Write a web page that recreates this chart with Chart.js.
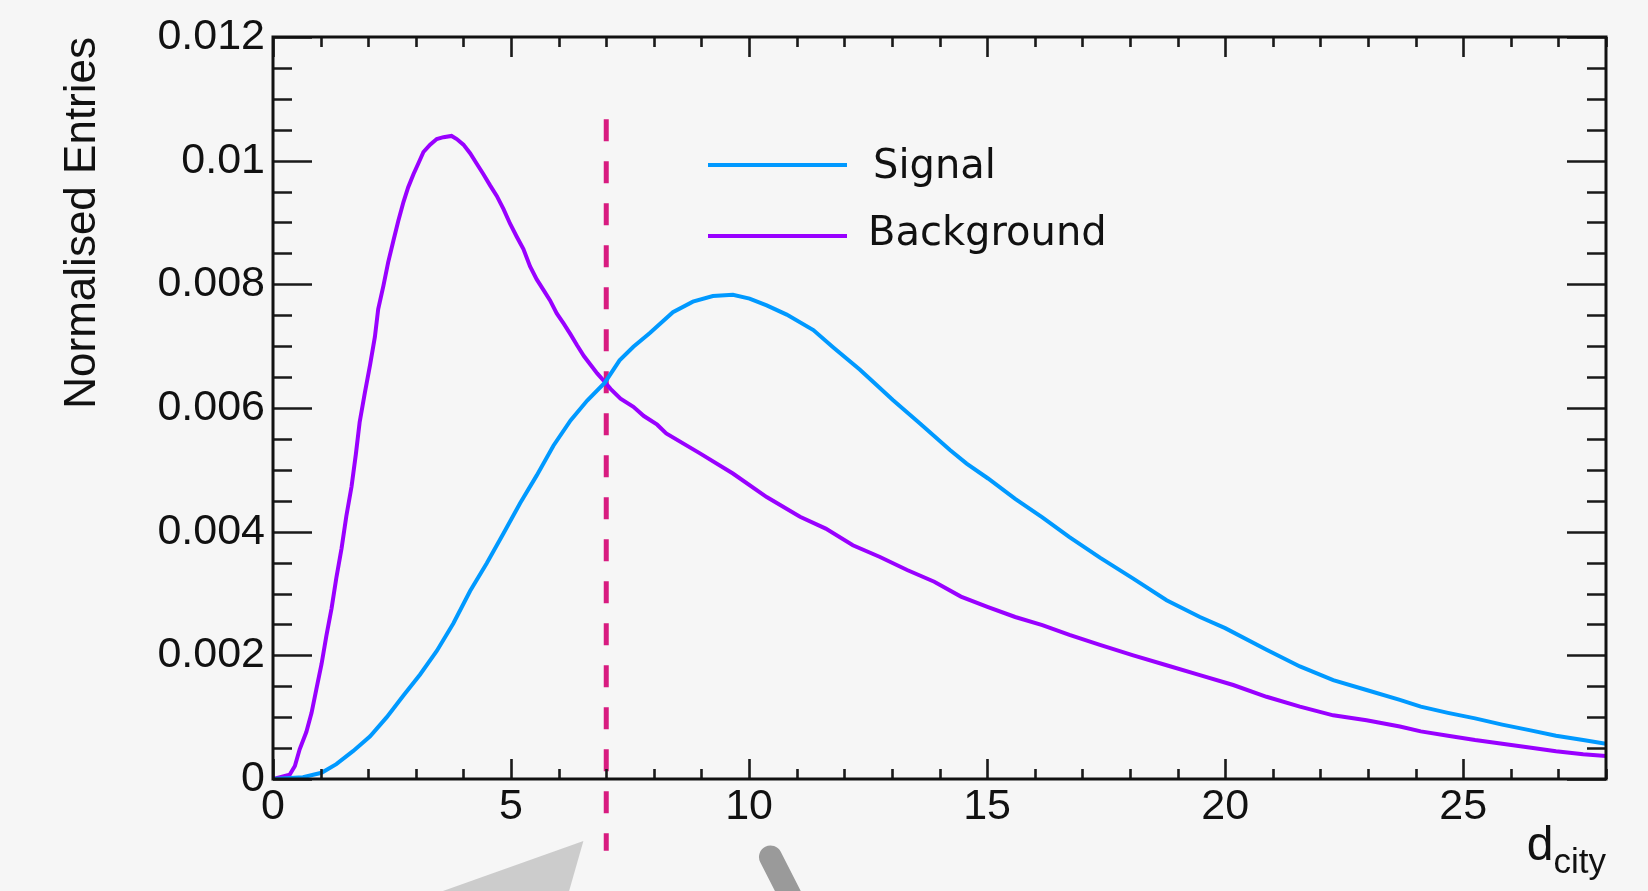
<!DOCTYPE html>
<html>
<head>
<meta charset="utf-8">
<script src="https://cdn.jsdelivr.net/npm/chart.js@4.4.1/dist/chart.umd.min.js"></script>
<style>
html,body{margin:0;padding:0;background:#f6f6f6;}
canvas{display:block;}
</style>
</head>
<body>
<canvas id="c" width="1648" height="891"></canvas>
<script>
// ---- data ----
const seriesNames = ['Signal', 'Background'];

const signalX = [0, 0.63, 1.02, 1.33, 1.68, 2.04, 2.39, 2.74, 3.09, 3.44, 3.79, 4.14, 4.49, 4.84, 5.19, 5.54, 5.89, 6.25, 6.60, 6.97, 7.28, 7.57, 7.91, 8.40, 8.82, 9.24, 9.66, 10.01, 10.37, 10.79, 11.35, 11.77, 12.33, 12.61, 13.02, 13.59, 14.22, 14.57, 15.02, 15.59, 16.16, 16.73, 17.37, 18.07, 18.77, 19.47, 20.00, 20.87, 21.57, 22.27, 22.97, 23.67, 24.11, 24.68, 25.25, 25.82, 26.39, 26.95, 27.52, 28.00];
const signalY = [0, 0.00003, 0.00010, 0.00024, 0.00045, 0.00069, 0.00100, 0.00135, 0.00169, 0.00207, 0.00252, 0.00304, 0.00349, 0.00397, 0.00446, 0.00491, 0.00539, 0.00580, 0.00612, 0.00641, 0.00677, 0.00699, 0.00721, 0.00755, 0.00772, 0.00781, 0.00783, 0.00777, 0.00766, 0.00751, 0.00726, 0.00698, 0.00662, 0.00642, 0.00613, 0.00575, 0.00532, 0.00510, 0.00486, 0.00453, 0.00423, 0.00391, 0.00358, 0.00324, 0.00289, 0.00262, 0.00244, 0.00209, 0.00182, 0.00160, 0.00144, 0.00128, 0.00117, 0.00107, 0.00098, 0.00088, 0.00079, 0.00070, 0.00063, 0.00057];

const backgroundX = [0, 0.35, 0.46, 0.56, 0.70, 0.81, 0.91, 1.02, 1.12, 1.23, 1.33, 1.44, 1.54, 1.65, 1.74, 1.82, 1.93, 2.04, 2.14, 2.21, 2.32, 2.42, 2.53, 2.63, 2.74, 2.84, 2.95, 3.05, 3.16, 3.30, 3.44, 3.58, 3.75, 3.86, 4.00, 4.14, 4.28, 4.42, 4.56, 4.70, 4.84, 4.98, 5.12, 5.26, 5.40, 5.54, 5.68, 5.82, 5.96, 6.11, 6.25, 6.39, 6.53, 6.67, 6.81, 6.97, 7.09, 7.30, 7.57, 7.79, 8.07, 8.26, 8.96, 9.66, 10.37, 11.07, 11.61, 12.18, 12.75, 13.32, 13.89, 14.45, 15.02, 15.59, 16.16, 16.73, 17.37, 18.07, 18.77, 19.47, 20.17, 20.87, 21.57, 22.27, 22.97, 23.67, 24.11, 24.68, 25.25, 25.82, 26.39, 26.95, 27.52, 28.00];
const backgroundY = [0, 0.00007, 0.00021, 0.00048, 0.00076, 0.00107, 0.00145, 0.00186, 0.00231, 0.00276, 0.00325, 0.00373, 0.00425, 0.00473, 0.00525, 0.00577, 0.00625, 0.00670, 0.00715, 0.00760, 0.00798, 0.00836, 0.00871, 0.00902, 0.00933, 0.00957, 0.00978, 0.00995, 0.01014, 0.01026, 0.01035, 0.01038, 0.01040, 0.01035, 0.01026, 0.01012, 0.00995, 0.00978, 0.00960, 0.00943, 0.00922, 0.00898, 0.00877, 0.00857, 0.00829, 0.00808, 0.00791, 0.00774, 0.00753, 0.00736, 0.00719, 0.00701, 0.00684, 0.00670, 0.00656, 0.00642, 0.00631, 0.00615, 0.00602, 0.00587, 0.00573, 0.00559, 0.00527, 0.00494, 0.00456, 0.00424, 0.00405, 0.00378, 0.00359, 0.00338, 0.00319, 0.00295, 0.00278, 0.00262, 0.00249, 0.00233, 0.00217, 0.00200, 0.00184, 0.00168, 0.00152, 0.00133, 0.00117, 0.00103, 0.00095, 0.00085, 0.00077, 0.00070, 0.00063, 0.00057, 0.00051, 0.00045, 0.00040, 0.00037];

const cutValue = 7;
const cutSpan = [0.01067, -0.00116];

const xRange = [0, 28];
const yRange = [0, 0.012];
const xTickLabels = ['0', '5', '10', '15', '20', '25'];
const yTickLabels = ['0', '0.002', '0.004', '0.006', '0.008', '0.01', '0.012'];
const yAxisTitle = 'Normalised Entries';
const xAxisTitle = ['d', 'city'];

// ---- styling ----
const COL_SIG = '#0099ff';
const COL_BKG = '#9900ff';
const COL_CUT = '#d81b80';
const TICK_FONT = 'Liberation Sans';

function toPoints(xs, ys) { return xs.map((x, i) => ({ x: x, y: ys[i] })); }

const bgPlugin = {
  id: 'bg',
  beforeDraw(chart) {
    const c = chart.ctx;
    c.save();
    c.fillStyle = '#f6f6f6';
    c.fillRect(0, 0, chart.width, chart.height);
    c.restore();
  }
};

const framePlugin = {
  id: 'frame',
  afterDatasetsDraw(chart) {
    const c = chart.ctx;
    const a = chart.chartArea;
    const xs = chart.scales.x, ys = chart.scales.y;
    c.save();
    c.strokeStyle = '#1a1a1a';
    c.lineWidth = 2.6;
    for (let i = 0; i <= 24; i++) {
      const py = Math.round(ys.getPixelForValue(i * 0.0005)) + 0.5;
      const len = (i % 4 === 0) ? 39 : 19;
      c.beginPath();
      c.moveTo(a.left, py); c.lineTo(a.left + len, py);
      c.moveTo(a.right, py); c.lineTo(a.right - len, py);
      c.stroke();
    }
    for (let i = 0; i <= 28; i++) {
      const px = Math.round(xs.getPixelForValue(i)) + 0.5;
      const len = (i % 5 === 0) ? 20 : 10;
      c.beginPath();
      c.moveTo(px, a.bottom); c.lineTo(px, a.bottom - len);
      c.moveTo(px, a.top); c.lineTo(px, a.top + len);
      c.stroke();
    }
    c.lineWidth = 3;
    c.strokeStyle = '#111';
    c.strokeRect(a.left, a.top, a.right - a.left, a.bottom - a.top);
    c.restore();
  }
};

const annotPlugin = {
  id: 'annot',
  afterDraw(chart) {
    const c = chart.ctx;
    const a = chart.chartArea;
    const xs = chart.scales.x;
    const H = chart.height;
    c.save();
    const rows = [
      { name: seriesNames[0], col: COL_SIG, y: a.top + 128, tx: a.left + 600, base: a.top + 141 },
      { name: seriesNames[1], col: COL_BKG, y: a.top + 199, tx: a.left + 595, base: a.top + 208 }
    ];
    c.font = '40px "DejaVu Sans"';
    c.textAlign = 'left';
    c.textBaseline = 'alphabetic';
    rows.forEach(r => {
      c.strokeStyle = r.col;
      c.lineWidth = 4;
      c.beginPath();
      c.moveTo(a.left + 435, r.y);
      c.lineTo(a.left + 574, r.y);
      c.stroke();
      c.fillStyle = '#111';
      c.fillText(r.name, r.tx, r.base);
    });
    c.fillStyle = '#111';
    c.textAlign = 'right';
    c.font = '35px "' + TICK_FONT + '"';
    const subW = c.measureText(xAxisTitle[1]).width;
    c.fillText(xAxisTitle[1], a.right, H - 18);
    c.font = '48px "' + TICK_FONT + '"';
    c.fillText(xAxisTitle[0], a.right - subW, H - 31);
    c.fillStyle = '#cccccc';
    c.beginPath();
    c.moveTo(xs.getPixelForValue(6.52), H - 50);
    c.lineTo(xs.getPixelForValue(3.57), H);
    c.lineTo(xs.getPixelForValue(6.22), H);
    c.closePath();
    c.fill();
    c.strokeStyle = '#9a9a9a';
    c.lineWidth = 23;
    c.lineCap = 'round';
    c.beginPath();
    c.moveTo(xs.getPixelForValue(10.45), H - 34);
    c.lineTo(xs.getPixelForValue(10.9), H + 8);
    c.stroke();
    c.restore();
  }
};

new Chart(document.getElementById('c'), {
  type: 'line',
  data: {
    datasets: [
      {
        label: seriesNames[0],
        data: toPoints(signalX, signalY),
        borderColor: COL_SIG,
        borderWidth: 4,
        pointRadius: 0,
        tension: 0,
        fill: false
      },
      {
        label: seriesNames[1],
        data: toPoints(backgroundX, backgroundY),
        borderColor: COL_BKG,
        borderWidth: 4,
        pointRadius: 0,
        tension: 0,
        fill: false
      },
      {
        label: 'cut',
        data: [{ x: cutValue, y: cutSpan[0] }, { x: cutValue, y: cutSpan[1] }],
        borderColor: COL_CUT,
        borderWidth: 5,
        borderDash: [22, 20],
        pointRadius: 0,
        fill: false,
        clip: false
      }
    ]
  },
  options: {
    responsive: false,
    animation: false,
    devicePixelRatio: 1,
    layout: { padding: { left: 0, right: 42, top: 37, bottom: 0 } },
    plugins: { legend: { display: false }, tooltip: { enabled: false } },
    scales: {
      x: {
        type: 'linear',
        min: xRange[0],
        max: xRange[1],
        grid: { display: false, drawTicks: false },
        border: { display: false },
        ticks: {
          stepSize: 5,
          includeBounds: false,
          maxRotation: 0,
          autoSkip: false,
          padding: 2,
          color: '#111',
          font: { family: TICK_FONT, size: 43 },
          callback: (v, i) => xTickLabels[i]
        },
        afterFit: s => { s.height = 112; }
      },
      y: {
        type: 'linear',
        min: yRange[0],
        max: yRange[1],
        grid: { display: false, drawTicks: false },
        border: { display: false },
        ticks: {
          stepSize: 0.002,
          includeBounds: false,
          autoSkip: false,
          padding: 8,
          color: '#111',
          font: { family: TICK_FONT, size: 43 },
          callback: (v, i) => yTickLabels[i]
        },
        title: {
          display: true,
          text: yAxisTitle,
          align: 'end',
          color: '#111',
          font: { family: TICK_FONT, size: 44 },
          padding: { top: 56, bottom: 0 }
        },
        afterFit: s => { s.width = 273; }
      }
    }
  },
  plugins: [bgPlugin, framePlugin, annotPlugin]
});
</script>
</body>
</html>
